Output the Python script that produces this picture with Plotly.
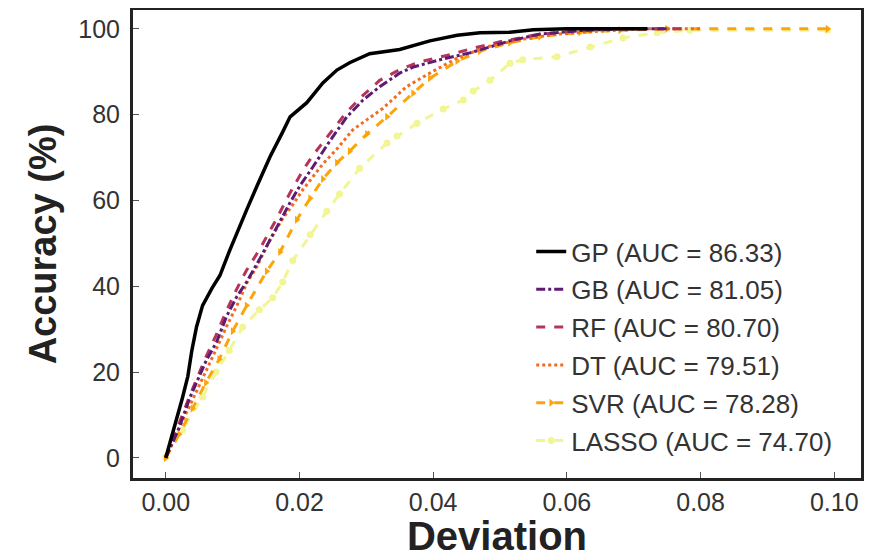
import plotly.graph_objects as go

names = ["GP (AUC = 86.33)", "GB (AUC = 81.05)", "RF (AUC = 80.70)",
         "DT (AUC = 79.51)", "SVR (AUC = 78.28)", "LASSO (AUC = 74.70)"]

gp_dev = [0, 0.0015, 0.0025, 0.0033, 0.0039, 0.0046, 0.0055, 0.0069, 0.0081, 0.0096, 0.0106, 0.0121,
          0.0136, 0.0156, 0.0175, 0.0186, 0.0211, 0.0235, 0.0256, 0.0275, 0.0305, 0.035, 0.0395,
          0.0436, 0.047, 0.0515, 0.055, 0.06, 0.072]
gp_acc = [0, 8, 14, 19, 25, 30.5, 35.5, 39.5, 42.5, 48.5, 52.4, 57.8, 63.2, 70.2, 76, 79.5, 82.8,
          87.4, 90.4, 92.1, 94.2, 95.2, 97.2, 98.5, 99.1, 99.2, 99.8, 100, 100]

gb_dev = [0, 0.002, 0.0036, 0.0061, 0.0076, 0.0091, 0.0106, 0.0121, 0.0141, 0.0166, 0.0186, 0.0201,
          0.022, 0.0246, 0.0271, 0.0295, 0.032, 0.035, 0.037, 0.041, 0.0455, 0.0515, 0.056, 0.062,
          0.068, 0.075]
gb_acc = [0, 7, 14, 22.8, 27, 33, 37.5, 41, 46.5, 53.8, 59.5, 63.5, 67.8, 74, 79.5, 83.4, 86.5, 89.7,
          91.1, 92.8, 94.4, 97.2, 98.8, 99.6, 100, 100]

rf_dev = [0, 0.002, 0.0036, 0.006, 0.0075, 0.009, 0.0105, 0.012, 0.014, 0.0165, 0.0185, 0.0205,
          0.022, 0.0245, 0.027, 0.0295, 0.032, 0.035, 0.038, 0.042, 0.046, 0.05, 0.055, 0.06, 0.066,
          0.078]
rf_acc = [0, 8, 14.5, 23.5, 28.5, 34, 39, 43.5, 48.5, 55.5, 61.5, 67, 70.5, 75.5, 80.5, 84.5, 88,
          90.5, 92.3, 93.8, 95.5, 97, 98.5, 99.4, 100, 100]

dt_dev = [0, 0.002, 0.004, 0.006, 0.0076, 0.0092, 0.0108, 0.0122, 0.0136, 0.0156, 0.0175, 0.019,
          0.0205, 0.0235, 0.0256, 0.028, 0.0305, 0.0325, 0.036, 0.0395, 0.0436, 0.048, 0.053, 0.058,
          0.065, 0.072, 0.08]
dt_acc = [0, 7, 13.5, 20, 25.5, 31, 36, 41, 44.5, 50.8, 55.8, 59, 62.5, 68.5, 72, 76.5, 79.3, 81.5,
          86.5, 89.7, 93.2, 95.8, 97.5, 98.7, 99.5, 100, 100]

svr_dev = [0, 0.002, 0.004, 0.006, 0.008, 0.01, 0.0121, 0.0151, 0.0171, 0.0196, 0.0216, 0.0235,
           0.0256, 0.0275, 0.0301, 0.0331, 0.037, 0.0395, 0.0436, 0.047, 0.0515, 0.056, 0.062, 0.068,
           0.075, 0.099]
svr_acc = [0, 5.5, 11.5, 17.5, 23, 29.5, 35.5, 43.5, 48, 55.5, 60.5, 65, 68.8, 71.5, 75.5, 79.5, 85,
           88.5, 92.5, 94.8, 96.8, 98.2, 99.2, 99.7, 100, 100]

lasso_dev = [0, 0.0025, 0.0055, 0.0075, 0.0095, 0.0115, 0.014, 0.016, 0.0175, 0.019, 0.0216, 0.0241,
             0.026, 0.029, 0.0331, 0.0346, 0.0376, 0.0415, 0.0445, 0.046, 0.0485, 0.0515, 0.0534,
             0.0585, 0.0635, 0.0684, 0.0735, 0.0784, 0.099]
lasso_acc = [0.2, 6.5, 14.2, 20, 25, 30.5, 34.5, 37.3, 41, 46, 52, 57.5, 61.5, 67.5, 73.4, 75, 78,
             81.3, 83.4, 85.5, 88, 92, 92.8, 93.5, 95.8, 97.9, 99.1, 99.7, 99.7]

x_ticks = [0.00, 0.02, 0.04, 0.06, 0.08, 0.10]
x_tick_labels = ["0.00", "0.02", "0.04", "0.06", "0.08", "0.10"]
y_ticks = [0, 20, 40, 60, 80, 100]

series = [
    (gp_dev, gp_acc, "#000000", "solid", 3.5, None),
    (gb_dev, gb_acc, "#5d1b72", "dashdot", 3, None),
    (rf_dev, rf_acc, "#b5345a", "dash", 3, None),
    (dt_dev, dt_acc, "#f26b21", "dot", 3, None),
    (svr_dev, svr_acc, "#fca50a", "dash", 3, "triangle-right"),
    (lasso_dev, lasso_acc, "#f1f592", "dash", 3, "circle"),
]

fig = go.Figure()
order = [5, 4, 3, 2, 1, 0]
for i in order:
    xd, yd, col, dash, w, sym = series[i]
    if sym:
        kw = dict(mode="lines+markers", marker=dict(symbol=sym, size=7, color=col))
    else:
        kw = dict(mode="lines")
    fig.add_trace(go.Scatter(x=xd, y=yd, name=names[i], legendgroup=names[i],
                             legendrank=i + 1,
                             line=dict(color=col, dash=dash, width=w), **kw))

# page body adds ~8px offset; figure sized to compensate
fig.update_layout(
    width=871, height=550,
    margin=dict(l=125, r=18, t=2, b=80, autoexpand=False),
    paper_bgcolor="white", plot_bgcolor="white",
    font=dict(family="Liberation Sans, Arial, sans-serif", color="#333333"),
    showlegend=True,
    legend=dict(x=0.547, y=0.534, xanchor="left", yanchor="top",
                font=dict(size=26, color="#333333"), bgcolor="rgba(0,0,0,0)",
                traceorder="grouped", tracegroupgap=1, itemwidth=30),
)
fig.update_xaxes(range=[-0.0049, 0.104], tickvals=x_ticks, ticktext=x_tick_labels,
                 ticks="inside", ticklen=6, tickcolor="#555", tickwidth=1,
                 showline=True, linecolor="#222222", linewidth=3, mirror=True,
                 showgrid=False, zeroline=False, automargin=False,
                 tickfont=dict(size=25, color="#333333"),
                 title=dict(text="<b>Deviation</b>", font=dict(size=40, color="#222222"), standoff=7))
fig.update_yaxes(range=[-4.7, 104.4], tickvals=y_ticks,
                 ticks="inside", ticklen=6, tickcolor="#555", tickwidth=1, ticklabelstandoff=5,
                 showline=True, linecolor="#222222", linewidth=3, mirror=True,
                 showgrid=False, zeroline=False, automargin=False,
                 tickfont=dict(size=25, color="#333333"),
                 title=dict(text="<b>Accuracy (%)</b>", font=dict(size=38, color="#222222"), standoff=10))

fig.write_html("out.html")
